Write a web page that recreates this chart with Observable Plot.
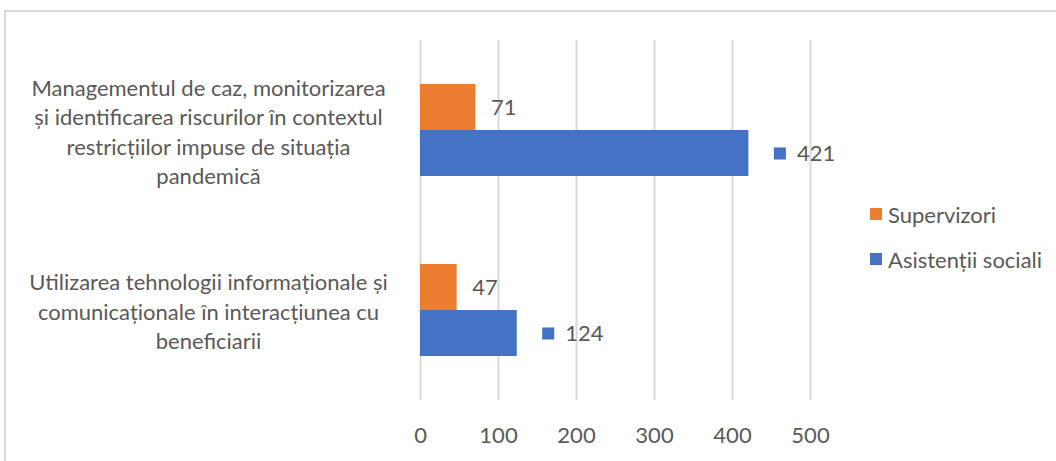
<!DOCTYPE html>
<html>
<head>
<meta charset="utf-8">
<script src="https://cdn.jsdelivr.net/npm/d3@7"></script>
<script src="https://cdn.jsdelivr.net/npm/@observablehq/plot@0.6"></script>
<style>
  html, body { margin: 0; padding: 0; background: #fff; }
  #wrap { position: relative; width: 1056px; height: 461px; overflow: hidden; font-family: Lato, "Open Sans", sans-serif; }
  #border { position: absolute; left: 4px; top: 10px; width: 1200px; height: 600px; border-top: 2px solid #d9d9d9; border-left: 2px solid #d9d9d9; }
  #chart { position: absolute; left: 0; top: 0; }
  #legend { position: absolute; left: 870px; top: 202px; color: #595959; font-size: 22px; }
  .item { display: flex; align-items: center; height: 24px; margin-bottom: 21px; white-space: nowrap; }
  .sw { width: 12px; height: 12px; margin-right: 6px; flex: none; }
</style>
</head>
<body>
<div id="wrap">
  <div id="border"></div>
  <div id="chart"></div>
  <div id="legend"></div>
</div>
<script>
const categories = [
  "Managementul de caz, monitorizarea\nși identificarea riscurilor în contextul\nrestricțiilor impuse de situația\npandemică",
  "Utilizarea tehnologii informaționale și\ncomunicaționale în interacțiunea cu\nbeneficiarii"
];
const series = ["Supervizori", "Asistenții sociali"];
const supervizori = [71, 47];
const asistenti = [421, 124];
const xTicks = [0, 100, 200, 300, 400, 500];
const colors = ["#ED7D31", "#4472C4"];

const rows = [];
categories.forEach((c, i) => {
  rows.push({cat: c, series: series[0], value: supervizori[i]});
  rows.push({cat: c, series: series[1], value: asistenti[i]});
});
const supRows = rows.filter(d => d.series === series[0]);
const asiRows = rows.filter(d => d.series === series[1]);

const fontSize = 22;
const chart = Plot.plot({
  width: 1056,
  height: 461,
  marginLeft: 420,
  marginRight: 246,
  marginTop: 40,
  marginBottom: 61,
  style: {fontFamily: "Lato, 'Open Sans', sans-serif", fontSize: fontSize + "px", color: "#595959", background: "transparent"},
  x: {domain: [0, 500], ticks: xTicks, tickSize: 0, tickPadding: 27, label: null},
  y: {domain: series, paddingInner: 0, paddingOuter: 0.915, axis: null},
  fy: {domain: categories, padding: 0, axis: null},
  color: {domain: series, range: colors},
  marks: [
    Plot.ruleX(xTicks, {x: d => d, stroke: "#d9d9d9", strokeWidth: 2}),
    Plot.barX(rows, {x: "value", y: "series", fy: "cat", fill: "series", insetTop: 0, insetBottom: 0}),
    Plot.text(supRows, {x: "value", y: "series", fy: "cat", text: d => String(d.value), dx: 15, textAnchor: "start", fill: "#595959"}),
    Plot.dot(asiRows, {x: "value", y: "series", fy: "cat", symbol: "square", r: 6.8, fill: colors[1], strokeWidth: 0, dx: 31}),
    Plot.text(asiRows, {x: "value", y: "series", fy: "cat", text: d => String(d.value), dx: 48, textAnchor: "start", fill: "#595959"}),
    Plot.text(categories, {fy: d => d, text: d => d, frameAnchor: "left", textAnchor: "middle", dx: -212, lineHeight: 29.5 / fontSize, fill: "#595959"})
  ]
});
document.getElementById("chart").appendChild(chart);

const legend = document.getElementById("legend");
series.forEach((s, i) => {
  const item = document.createElement("div");
  item.className = "item";
  const sw = document.createElement("span");
  sw.className = "sw";
  sw.style.background = colors[i];
  const t = document.createElement("span");
  t.textContent = s;
  item.appendChild(sw);
  item.appendChild(t);
  legend.appendChild(item);
});
</script>
</body>
</html>
